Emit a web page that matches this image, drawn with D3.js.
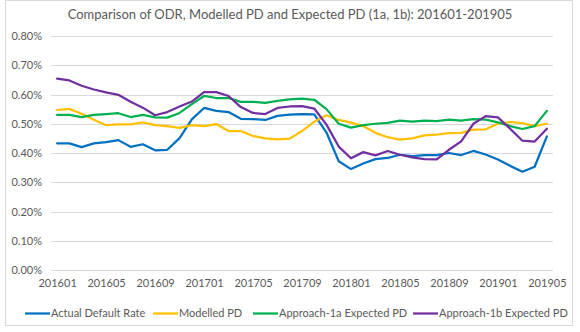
<!DOCTYPE html>
<html>
<head>
<meta charset="utf-8">
<script src="https://cdn.jsdelivr.net/npm/d3@7"></script>
<style>
  body { margin: 0; background: #fff; }
  svg text { font-family: Lato, "Open Sans", sans-serif; }
</style>
</head>
<body>
<div class="chart"></div>
<script>
// 월 (x축 카테고리)
const months = [
  '201601','201602','201603','201604','201605','201606','201607','201608','201609','201610','201611','201612',
  '201701','201702','201703','201704','201705','201706','201707','201708','201709','201710','201711','201712',
  '201801','201802','201803','201804','201805','201806','201807','201808','201809','201810','201811','201812',
  '201901','201902','201903','201904','201905'
];
// x축 라벨 (4개월 간격)
const monthTicks = ['201601','201605','201609','201701','201705','201709','201801','201805','201809','201901','201905'];
// y축 눈금 (%)
const yTicks = [0, 0.1, 0.2, 0.3, 0.4, 0.5, 0.6, 0.7, 0.8];

// 시리즈 값 (%)
const actualDefaultRate = [
  0.433, 0.433, 0.420, 0.433, 0.437, 0.444, 0.421, 0.430, 0.409, 0.411, 0.451, 0.515,
  0.554, 0.544, 0.540, 0.517, 0.516, 0.513, 0.527, 0.531, 0.533, 0.532, 0.470, 0.372,
  0.345, 0.364, 0.379, 0.383, 0.394, 0.389, 0.393, 0.393, 0.400, 0.393, 0.407, 0.395,
  0.378, 0.356, 0.336, 0.353, 0.457
];
const modelledPD = [
  0.547, 0.551, 0.534, 0.514, 0.495, 0.498, 0.498, 0.505, 0.495, 0.492, 0.486, 0.495,
  0.492, 0.499, 0.475, 0.475, 0.458, 0.450, 0.447, 0.449, 0.475, 0.507, 0.529, 0.513,
  0.504, 0.492, 0.469, 0.454, 0.446, 0.450, 0.460, 0.463, 0.468, 0.469, 0.480, 0.481,
  0.500, 0.506, 0.502, 0.492, 0.500
];
const approach1a = [
  0.530, 0.530, 0.523, 0.530, 0.533, 0.536, 0.523, 0.530, 0.522, 0.521, 0.537, 0.567,
  0.595, 0.588, 0.588, 0.575, 0.575, 0.571, 0.578, 0.583, 0.586, 0.582, 0.550, 0.500,
  0.487, 0.495, 0.500, 0.503, 0.511, 0.507, 0.511, 0.509, 0.514, 0.511, 0.516, 0.514,
  0.505, 0.492, 0.482, 0.492, 0.544
];
const approach1b = [
  0.654, 0.648, 0.630, 0.617, 0.607, 0.599, 0.575, 0.555, 0.529, 0.540, 0.559, 0.576,
  0.608, 0.608, 0.595, 0.557, 0.537, 0.533, 0.554, 0.559, 0.560, 0.552, 0.497, 0.422,
  0.382, 0.403, 0.392, 0.407, 0.394, 0.385, 0.379, 0.378, 0.411, 0.440, 0.500, 0.526,
  0.522, 0.483, 0.442, 0.439, 0.483
];

const seriesNames = ['Actual Default Rate', 'Modelled PD', 'Approach-1a Expected PD', 'Approach-1b Expected PD'];
const seriesColors = ['#0070C0', '#FFC000', '#00B050', '#7030A0'];
const seriesValues = [actualDefaultRate, modelledPD, approach1a, approach1b];

/******************** 차트 영역 ********************/
const W = 580, H = 332;
const xRange = [51, 553];
const yRange = [270, 36];

const svg = d3.select('.chart').append('svg')
  .attr('width', W)
  .attr('height', H);

// 바깥 테두리
svg.append('rect')
  .attr('x', 5.5).attr('y', 0.5)
  .attr('width', 567).attr('height', 325)
  .attr('fill', '#fff')
  .attr('stroke', '#d9d9d9');

const xScale = d3.scalePoint(months, xRange).padding(0.5);
const yScale = d3.scaleLinear([0, 0.8], yRange);

/******************** 제목 ********************/
svg.append('text')
  .attr('x', 290)
  .attr('y', 19)
  .attr('text-anchor', 'middle')
  .attr('font-size', '13px')
  .attr('fill', '#595959')
  .text('Comparison of ODR, Modelled PD and Expected PD (1a, 1b): 201601-201905');

/******************** y축 + 눈금선 ********************/
const yAxis = d3.axisLeft(yScale)
  .tickValues(yTicks)
  .tickFormat(d => d.toFixed(2) + '%')
  .tickSize(-(xRange[1] - xRange[0]))
  .tickPadding(9);

svg.append('g')
  .attr('transform', `translate(${xRange[0]}, 0)`)
  .call(yAxis)
  .call(g => g.select('.domain').remove())
  .call(g => g.selectAll('.tick line').attr('stroke', '#d9d9d9').attr('shape-rendering', 'crispEdges'))
  .call(g => g.selectAll('.tick text')
    .attr('font-family', 'Lato, sans-serif')
    .attr('font-size', '11px')
    .attr('fill', '#595959'));

/******************** x축 ********************/
const xAxis = d3.axisBottom(xScale)
  .tickValues(monthTicks)
  .tickSize(0)
  .tickPadding(9);

svg.append('g')
  .attr('transform', `translate(0, ${yScale(0)})`)
  .call(xAxis)
  .call(g => g.select('.domain').remove())
  .call(g => g.selectAll('.tick text')
    .attr('font-family', 'Lato, sans-serif')
    .attr('font-size', '11px')
    .attr('fill', '#595959'));

/******************** 선 ********************/
const line = d3.line()
  .x((d, i) => xScale(months[i]))
  .y(d => yScale(d));

svg.append('g')
  .selectAll('path')
  .data(seriesValues)
  .join('path')
    .attr('d', d => line(d))
    .attr('fill', 'none')
    .attr('stroke', (d, i) => seriesColors[i])
    .attr('stroke-width', 2.25)
    .attr('stroke-linejoin', 'round')
    .attr('stroke-linecap', 'round');

/******************** 범례 ********************/
const legendX = [25, 153, 253, 413];
const legendY = 313.5;
const legend = svg.append('g')
  .selectAll('g')
  .data(seriesNames)
  .join('g');

legend.append('line')
  .attr('x1', (d, i) => legendX[i])
  .attr('x2', (d, i) => legendX[i] + 25)
  .attr('y1', legendY)
  .attr('y2', legendY)
  .attr('stroke', (d, i) => seriesColors[i])
  .attr('stroke-width', 2.25);

legend.append('text')
  .attr('x', (d, i) => legendX[i] + 26)
  .attr('y', legendY)
  .attr('dy', '0.35em')
  .attr('font-size', '11px')
  .attr('fill', '#595959')
  .text(d => d);
</script>
</body>
</html>
